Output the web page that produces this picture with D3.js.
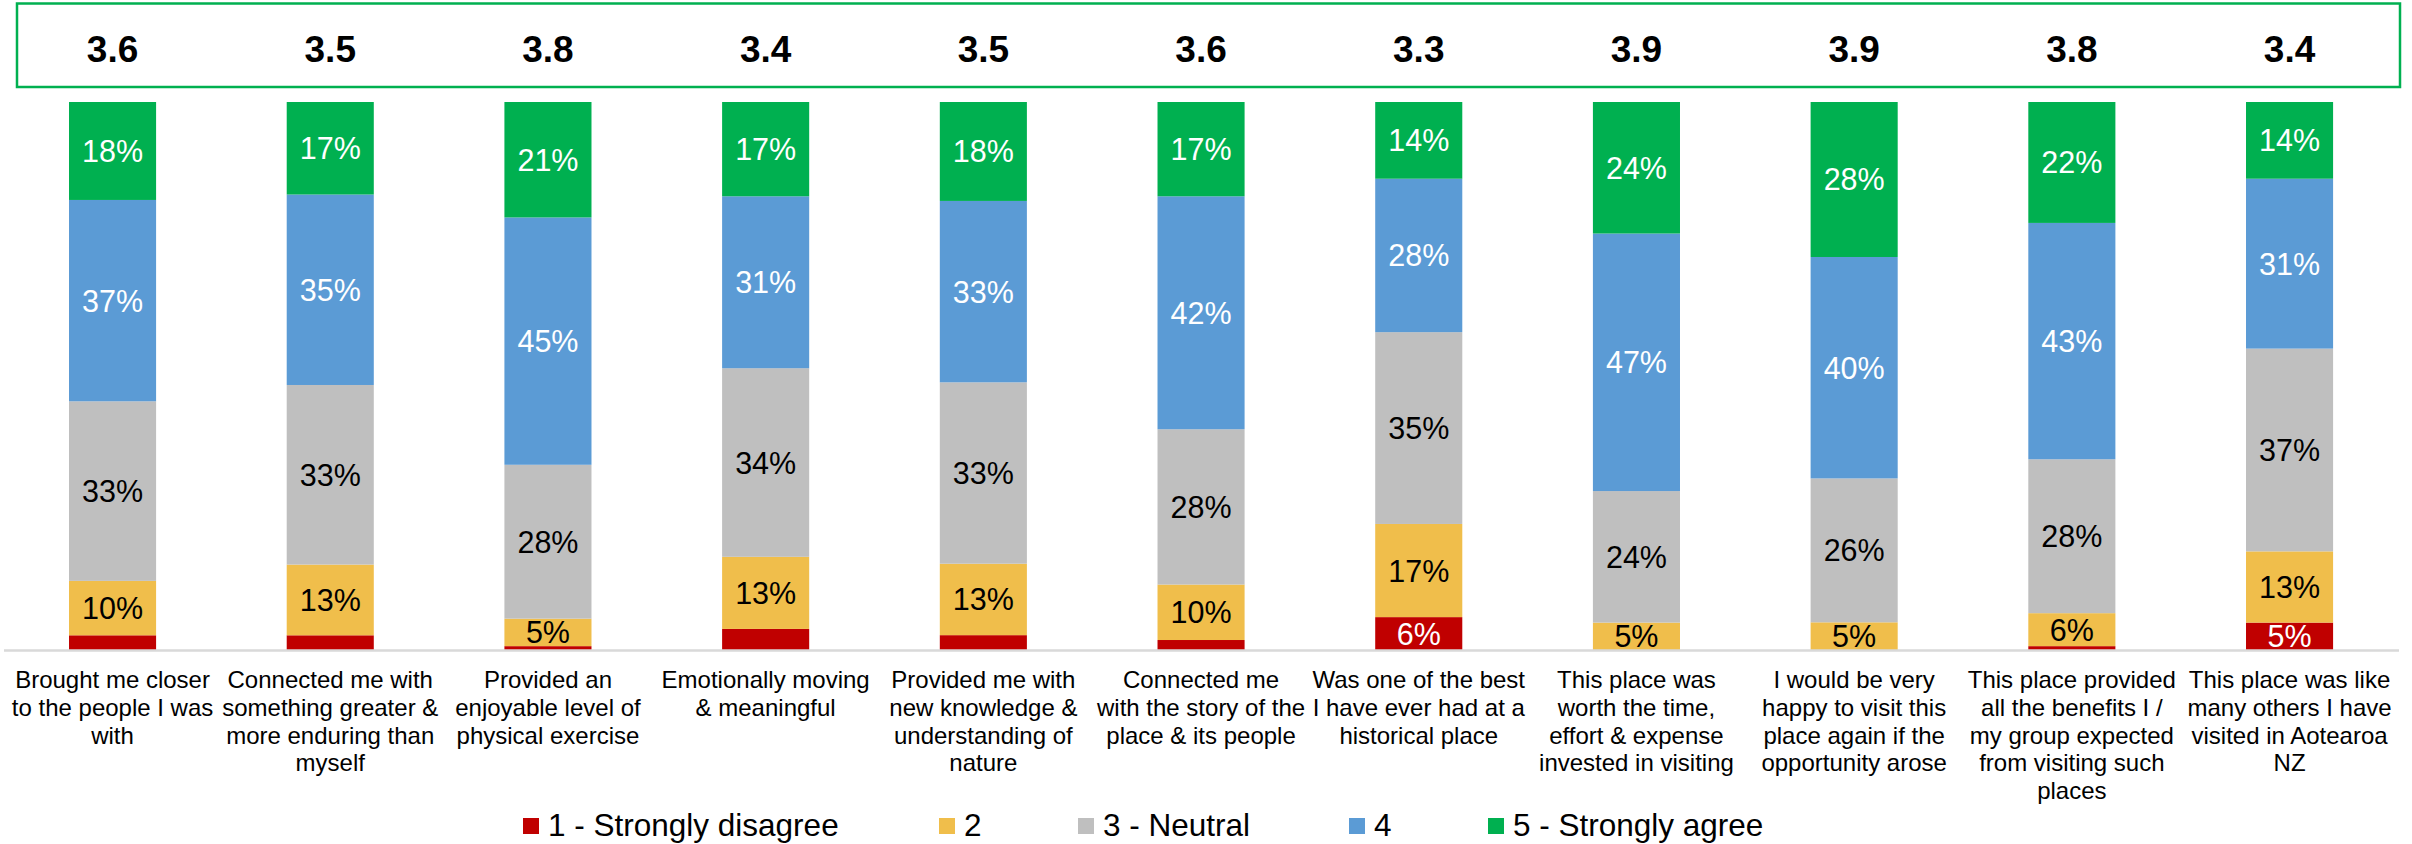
<!DOCTYPE html>
<html>
<head>
<meta charset="utf-8">
<script src="https://cdn.jsdelivr.net/npm/d3@7"></script>
<style>
  html, body { margin: 0; padding: 0; background: #ffffff; }
  svg { display: block; font-family: "Liberation Sans", Arial, sans-serif; }
</style>
</head>
<body>
<svg id="chart" width="2412" height="844"></svg>
<script>
// ---- Data ----
const categories = [
  "Brought me closer\nto the people I was\nwith",
  "Connected me with\nsomething greater &\nmore enduring than\nmyself",
  "Provided an\nenjoyable level of\nphysical exercise",
  "Emotionally moving\n& meaningful",
  "Provided me with\nnew knowledge &\nunderstanding of\nnature",
  "Connected me\nwith the story of the\nplace & its people",
  "Was one of the best\nI have ever had at a\nhistorical place",
  "This place was\nworth the time,\neffort & expense\ninvested in visiting",
  "I would be very\nhappy to visit this\nplace again if the\nopportunity arose",
  "This place provided\nall the benefits I /\nmy group expected\nfrom visiting such\nplaces",
  "This place was like\nmany others I have\nvisited in Aotearoa\nNZ"
];
const seriesNames = ["1 - Strongly disagree", "2", "3 - Neutral", "4", "5 - Strongly agree"];
const stronglyDisagree = [2.7, 2.7, 0.7, 3.8, 2.7, 1.8, 6, 0, 0, 0.7, 5];
const disagree         = [10, 13, 5, 13, 13, 10, 17, 5, 5, 6, 13];
const neutral          = [33, 33, 28, 34, 33, 28, 35, 24, 26, 28, 37];
const agree            = [37, 35, 45, 31, 33, 42, 28, 47, 40, 43, 31];
const stronglyAgree    = [18, 17, 21, 17, 18, 17, 14, 24, 28, 22, 14];
const meanScores       = [3.6, 3.5, 3.8, 3.4, 3.5, 3.6, 3.3, 3.9, 3.9, 3.8, 3.4];
const seriesColors = ["#C00000", "#F0BE4B", "#BFBFBF", "#5B9BD5", "#00B050"];
const labelColors  = ["#ffffff", "#000000", "#000000", "#ffffff", "#ffffff"];

// ---- Build table ----
const seriesArrays = [stronglyDisagree, disagree, neutral, agree, stronglyAgree];
const table = categories.map((c, i) => {
  const row = { category: c };
  seriesNames.forEach((s, j) => { row[s] = seriesArrays[j][i]; });
  return row;
});

const svg = d3.select("#chart");

const x = d3.scaleBand()
  .domain(categories)
  .range([3.7, 2398.4])
  .paddingInner(0.6)
  .paddingOuter(0.3);

const y = d3.scaleLinear().domain([0, 1]).range([650, 102]);

const stack = d3.stack().keys(seriesNames).offset(d3.stackOffsetExpand);
const stacked = stack(table);

// Mean box
svg.append("rect")
  .attr("x", 17).attr("y", 3.5)
  .attr("width", 2383).attr("height", 83.5)
  .attr("fill", "none")
  .attr("stroke", "#00B050")
  .attr("stroke-width", 2.5);

svg.append("g").selectAll("text")
  .data(categories)
  .join("text")
  .attr("x", d => x(d) + x.bandwidth() / 2)
  .attr("y", 61.5)
  .attr("text-anchor", "middle")
  .attr("font-size", 37)
  .attr("font-weight", "bold")
  .attr("fill", "#000")
  .text((d, i) => d3.format(".1f")(meanScores[i]));

// Bars
const layers = svg.append("g").selectAll("g")
  .data(stacked)
  .join("g")
  .attr("fill", (d, i) => seriesColors[i]);

layers.selectAll("rect")
  .data(d => d)
  .join("rect")
  .attr("x", d => x(d.data.category))
  .attr("width", x.bandwidth())
  .attr("y", d => y(d[1]))
  .attr("height", d => Math.max(0, y(d[0]) - y(d[1])));

// Segment labels
stacked.forEach((layer, si) => {
  svg.append("g").selectAll("text")
    .data(layer.filter(d => d.data[seriesNames[si]] >= 4.5))
    .join("text")
    .attr("x", d => x(d.data.category) + x.bandwidth() / 2)
    .attr("y", d => (y(d[0]) + y(d[1])) / 2)
    .attr("dy", "0.36em")
    .attr("text-anchor", "middle")
    .attr("font-size", 30.5)
    .attr("fill", labelColors[si])
    .text(d => Math.round(d.data[seriesNames[si]]) + "%");
});

// Axis baseline
const xAxis = d3.axisBottom(x).tickSize(0).tickFormat("");
const axisG = svg.append("g").attr("transform", "translate(0,650.5)").call(xAxis);
axisG.select(".domain").attr("stroke", "#D9D9D9").attr("stroke-width", 2.3)
  .attr("d", "M4,0H2399");

// Category labels
const catG = svg.append("g");
categories.forEach(c => {
  const t = catG.append("text")
    .attr("text-anchor", "middle")
    .attr("font-size", 24)
    .attr("fill", "#000");
  c.split("\n").forEach((line, li) => {
    t.append("tspan")
      .attr("x", x(c) + x.bandwidth() / 2)
      .attr("y", 688 + li * 27.8)
      .text(line);
  });
});

// Legend (item positions taken from the reference layout)
const legendX = d3.scalePoint().domain(seriesNames).range([0, 1]);
const legendPos = [523, 939, 1078, 1349, 1488];
const legend = svg.append("g");
seriesNames.forEach((s, i) => {
  const lx = legendPos[i];
  legend.append("rect")
    .attr("x", lx).attr("y", 818)
    .attr("width", 16).attr("height", 16)
    .attr("fill", seriesColors[i]);
  legend.append("text")
    .attr("x", lx + 25).attr("y", 835.5)
    .attr("font-size", 31.5)
    .attr("fill", "#000")
    .text(s);
});
</script>
</body>
</html>
